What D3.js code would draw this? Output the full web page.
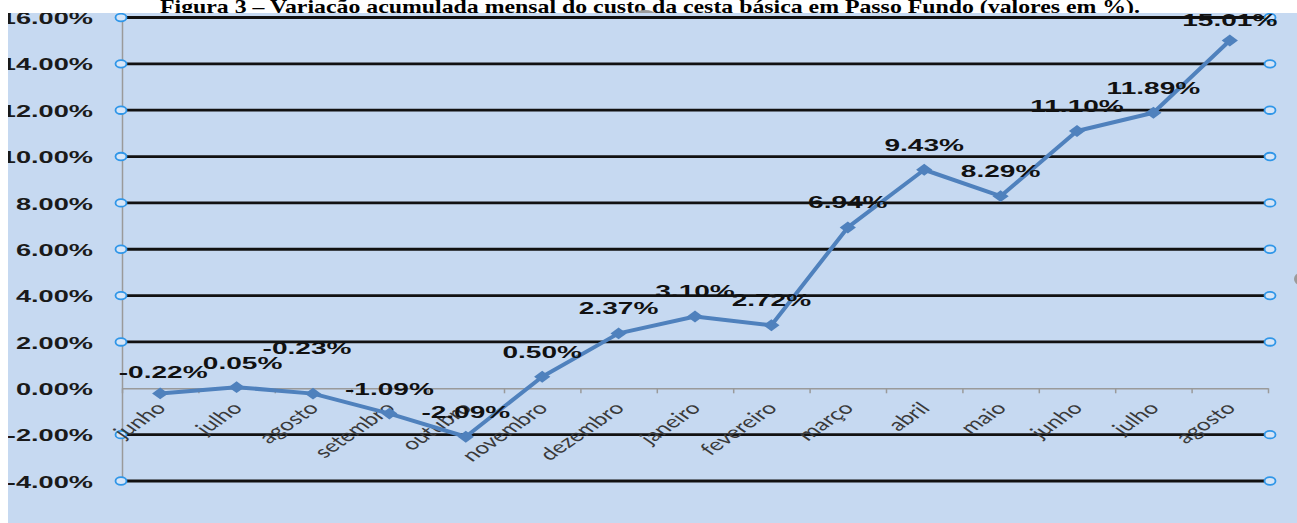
<!DOCTYPE html>
<html>
<head>
<meta charset="utf-8">
<script src="https://cdn.jsdelivr.net/npm/d3@7"></script>
<style>
  body { margin: 0; background: #fff; }
  svg { display: block; }
</style>
</head>
<body>
<div id="graf"></div>
<script>
// Dados do gráfico
const titulo = "Figura 3 – Variação acumulada mensal do custo da cesta básica em Passo Fundo (valores em %).";
const meses = ["junho", "julho", "agosto", "setembro", "outubro", "novembro", "dezembro",
  "janeiro", "fevereiro", "março", "abril", "maio", "junho", "julho", "agosto"];
const variacao = [-0.22, 0.05, -0.23, -1.09, -2.09, 0.50, 2.37, 3.10, 2.72, 6.94, 9.43, 8.29, 11.10, 11.89, 15.01];
const yTicks = [-4, -2, 0, 2, 4, 6, 8, 10, 12, 14, 16];

const ancho_total = 1297, alto_total = 523;
const area = { left: 8, top: 13 };
const plot = { left: 122, right: 1268, top: 17.5, bottom: 481 };
const estica = 1.6; // a imagem original está esticada na horizontal

// ajustes manuais dos rótulos (dx, dy da linha de base)
const ajusteRotulo = { 0: [3, -15], 1: [6, -18], 2: [-6, -40], 14: [0, -14] };

const svg = d3.select("#graf")
  .append("svg")
  .attr("width", ancho_total)
  .attr("height", alto_total);

// Título (cortado pela área do gráfico)
svg.append("text")
  .attr("x", 160)
  .attr("y", 13)
  .attr("textLength", 980)
  .attr("lengthAdjust", "spacingAndGlyphs")
  .style("font-family", "'Liberation Serif', 'Times New Roman', serif")
  .style("font-weight", "bold")
  .style("font-size", "19px")
  .text(titulo);

svg.append("ellipse")
  .attr("cx", 645).attr("cy", 14)
  .attr("rx", 10).attr("ry", 4)
  .attr("fill", "#9a9a9a");

svg.append("clipPath").attr("id", "recorte")
  .append("rect")
  .attr("x", area.left).attr("y", area.top)
  .attr("width", ancho_total - area.left)
  .attr("height", alto_total - area.top);

const g = svg.append("g").attr("clip-path", "url(#recorte)");

g.append("rect")
  .attr("x", area.left).attr("y", area.top)
  .attr("width", ancho_total - area.left)
  .attr("height", alto_total - area.top)
  .attr("fill", "#c6d9f1");

// Escalas
const idx = d3.range(meses.length);
const x = d3.scaleBand().domain(idx).range([plot.left, plot.right]);
const xBorda = d3.scaleLinear().domain([0, meses.length]).range([plot.left, plot.right]);
const y = d3.scaleLinear().domain([-4, 16]).range([plot.bottom, plot.top]);

// Linhas de grade (pretas)
const grade = yTicks.filter((d) => d !== 0);
g.selectAll(".grade")
  .data(grade)
  .join("line")
  .attr("class", "grade")
  .attr("x1", plot.left).attr("x2", plot.right)
  .attr("y1", (d) => y(d)).attr("y2", (d) => y(d))
  .attr("stroke", "#111")
  .attr("stroke-width", 2.8);

// Eixo Y (linha vertical cinza)
const yAxis = g.append("g")
  .attr("transform", `translate(${plot.left},0)`)
  .call(d3.axisLeft(y).tickValues(yTicks).tickSize(0).tickSizeOuter(0)
    .tickFormat((d) => d.toFixed(2) + "%"));
yAxis.select(".domain").attr("stroke", "#9a9a9a").attr("stroke-width", 1.5);
yAxis.selectAll("text")
  .attr("x", -29 / estica)
  .attr("dy", "0.36em")
  .attr("transform", `scale(${estica},1)`)
  .attr("fill", "#1a1a1a")
  .style("font-family", "'Liberation Sans', Arial, sans-serif")
  .style("font-weight", "bold")
  .style("font-size", "17px");

// Eixo X no zero, com marcas entre as categorias
const xAxis = g.append("g")
  .attr("transform", `translate(0,${y(0)})`)
  .call(d3.axisBottom(xBorda).tickValues(d3.range(meses.length + 1))
    .tickSize(5).tickSizeOuter(0).tickFormat(""));
xAxis.select(".domain").attr("stroke", "#9a9a9a").attr("stroke-width", 1.5);
xAxis.selectAll(".tick line").attr("stroke", "#9a9a9a").attr("stroke-width", 1.5);

// círculos nas pontas das linhas de grade
["L", "R"].forEach((lado) => {
  g.selectAll(".alca" + lado)
    .data(grade)
    .join("ellipse")
    .attr("class", "alca" + lado)
    .attr("cx", lado === "L" ? plot.left - 1 : plot.right + 2)
    .attr("cy", (d) => y(d))
    .attr("rx", 5.5).attr("ry", 3.8)
    .attr("fill", "#d6e5f7")
    .attr("stroke", "#2f96e8")
    .attr("stroke-width", 1.8);
});

// rótulos das categorias (inclinados)
g.selectAll(".mes")
  .data(idx)
  .join("text")
  .attr("class", "mes")
  .attr("transform", (i) =>
    `translate(${x(i) + x.bandwidth() / 2 + 7},${y(0) + 21}) scale(1.45,1) rotate(-45)`)
  .attr("text-anchor", "end")
  .attr("fill", "#3a3a3a")
  .style("font-family", "Lato, 'Open Sans', sans-serif")
  .style("font-size", "17px")
  .text((i) => meses[i]);

// Linha da série
const linhaGen = d3.line()
  .x((d, i) => x(i) + x.bandwidth() / 2)
  .y((d) => y(d));

g.append("path")
  .datum(variacao)
  .attr("fill", "none")
  .attr("stroke", "#4f81bd")
  .attr("stroke-width", 4)
  .attr("stroke-linejoin", "round")
  .attr("d", linhaGen);

// marcadores em losango
const losango = d3.symbol().type(d3.symbolSquare).size(78);
g.selectAll(".marca")
  .data(variacao)
  .join("path")
  .attr("class", "marca")
  .attr("d", losango)
  .attr("transform", (d, i) =>
    `translate(${x(i) + x.bandwidth() / 2},${y(d)}) scale(1.3,0.95) rotate(45)`)
  .attr("fill", "#4f81bd");

// rótulos de dados
g.selectAll(".rotulo")
  .data(variacao)
  .join("text")
  .attr("class", "rotulo")
  .attr("transform", (d, i) => {
    const aj = ajusteRotulo[i] || [0, -19];
    return `translate(${x(i) + x.bandwidth() / 2 + aj[0]},${y(d) + aj[1]}) scale(${estica + 0.1},1)`;
  })
  .attr("text-anchor", "middle")
  .attr("fill", "#111")
  .style("font-family", "'Liberation Sans', Arial, sans-serif")
  .style("font-weight", "bold")
  .style("font-size", "16.5px")
  .text((d) => d.toFixed(2) + "%");

svg.append("circle")
  .attr("cx", 1300).attr("cy", 279)
  .attr("r", 6)
  .attr("fill", "#9a9a9a");
</script>
</body>
</html>
